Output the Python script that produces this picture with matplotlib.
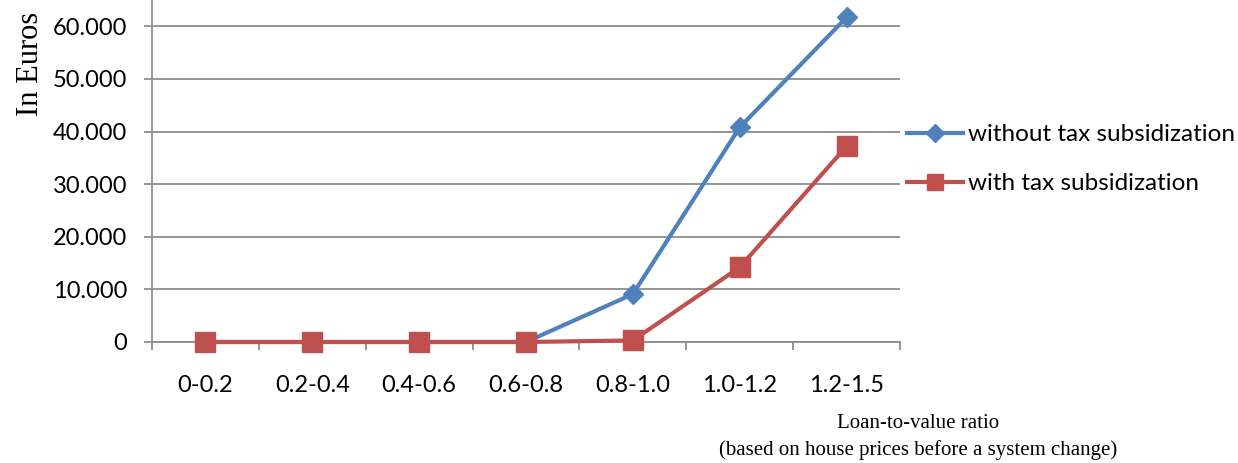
import matplotlib.pyplot as plt
from matplotlib.ticker import FuncFormatter, FixedLocator

categories = ["0-0.2", "0.2-0.4", "0.4-0.6", "0.6-0.8", "0.8-1.0", "1.0-1.2", "1.2-1.5"]
without_subsidy = [0, 0, 0, 0, 9100, 40800, 61700]
with_subsidy = [0, 0, 0, 0, 300, 14200, 37200]

blue = "#4F81BD"
red = "#C0504D"
grid_grey = "#8C8C8C"

fig = plt.figure(figsize=(12.38, 4.63), dpi=100)
ax = fig.add_axes([152 / 1238, (463 - 342) / 463, (900 - 152) / 1238, 342 / 463])

x = list(range(len(categories)))
ax.plot(x, without_subsidy, color=blue, lw=3, marker="D", ms=10.5,
        label="without tax subsidization", zorder=3, clip_on=False)
ax.plot(x, with_subsidy, color=red, lw=3, marker="s", ms=14,
        label="with tax subsidization", zorder=4, clip_on=False)

ax.set_xlim(-0.5, len(categories) - 0.5)
ax.set_ylim(0, 65000)
ax.set_yticks(range(0, 60001, 10000))
ax.yaxis.set_major_formatter(FuncFormatter(lambda v, p: f"{int(v):,}".replace(",", ".")))
ax.set_xticks(x)
ax.set_xticklabels(categories)
ax.xaxis.set_minor_locator(FixedLocator([i - 0.5 for i in range(len(categories) + 1)]))

ax.grid(axis="y", color=grid_grey, lw=1.3)
ax.set_axisbelow(True)
for side in ("top", "right"):
    ax.spines[side].set_visible(False)
for side in ("left", "bottom"):
    ax.spines[side].set_color(grid_grey)
    ax.spines[side].set_linewidth(1.3)

ax.tick_params(axis="y", length=6, width=1.3, color=grid_grey, labelsize=17, pad=12)
ax.tick_params(axis="x", which="major", length=0, labelsize=17, pad=24)
ax.tick_params(axis="x", which="minor", length=6, width=1.3, color=grid_grey)
for lbl in ax.get_xticklabels() + ax.get_yticklabels():
    lbl.set_fontfamily("Lato")

fig.text(30 / 1238, 1 - 64 / 463, "In Euros", rotation=90, ha="center", va="center",
         family="Liberation Serif", fontsize=22)
fig.text(918 / 1238, 1 - 424 / 463, "Loan-to-value ratio", ha="center", va="center",
         family="Liberation Serif", fontsize=15)
fig.text(918 / 1238, 1 - 450 / 463, "(based on house prices before a system change)",
         ha="center", va="center", family="Liberation Serif", fontsize=15)

fig.legend(loc="upper left", bbox_to_anchor=(907 / 1238, 1 - 124 / 463), frameon=False,
           prop={"family": "Lato", "size": 17.5}, handlelength=2.3, handletextpad=0.2,
           labelspacing=1.17, borderpad=0, borderaxespad=0, markerscale=0.85)

fig.savefig("out.png", dpi=100)
